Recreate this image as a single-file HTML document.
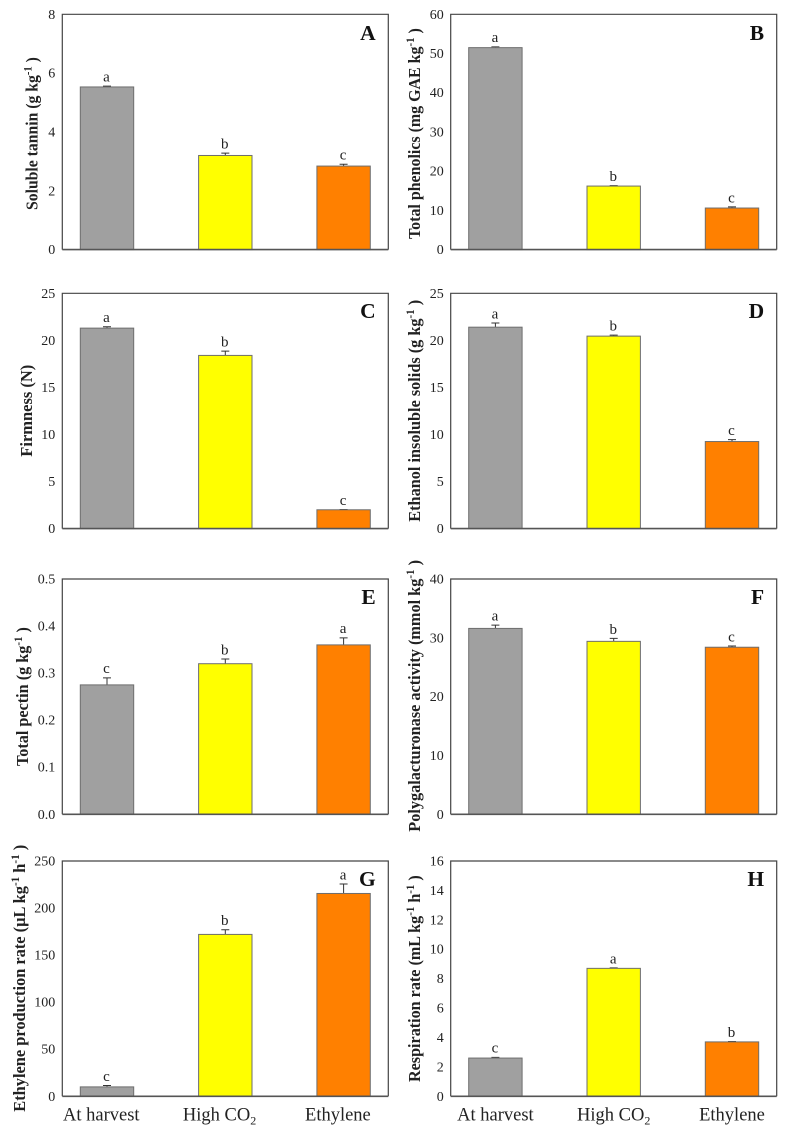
<!DOCTYPE html>
<html lang="en">
<head>
<meta charset="utf-8">
<title>Fruit quality bar charts</title>
<style>
html,body{margin:0;padding:0;background:#fff;width:788px;height:1134px;overflow:hidden}
svg{display:block;font-family:"Liberation Serif","Times New Roman",serif;filter:blur(0.3px)}
</style>
</head>
<body>
<svg id="figure" xmlns="http://www.w3.org/2000/svg" width="788" height="1134" viewBox="0 0 788 1134"></svg>
<script>
const categories = ['At harvest', 'High CO2', 'Ethylene'];
const barColors = ['#a0a0a0', '#ffff00', '#ff8000'];

const panelIds = ['A', 'B', 'C', 'D', 'E', 'F', 'G', 'H'];

const ticksA = [0, 2, 4, 6, 8];
const ticksB = [0, 10, 20, 30, 40, 50, 60];
const ticksC = [0, 5, 10, 15, 20, 25];
const ticksD = [0, 5, 10, 15, 20, 25];
const ticksE = [0, 0.1, 0.2, 0.3, 0.4, 0.5];
const ticksF = [0, 10, 20, 30, 40];
const ticksG = [0, 50, 100, 150, 200, 250];
const ticksH = [0, 2, 4, 6, 8, 10, 12, 14, 16];

const valuesA = [5.53, 3.2, 2.84];
const valuesB = [51.5, 16.2, 10.6];
const valuesC = [21.3, 18.4, 2.0];
const valuesD = [21.4, 20.45, 9.25];
const valuesE = [0.275, 0.32, 0.36];
const valuesF = [31.6, 29.4, 28.4];
const valuesG = [10, 172, 215.5];
const valuesH = [2.6, 8.7, 3.7];

const errorsA = [0.03, 0.08, 0.06];
const errorsB = [0.2, 0.1, 0.3];
const errorsC = [0.15, 0.45, 0.03];
const errorsD = [0.45, 0.1, 0.2];
const errorsE = [0.015, 0.01, 0.015];
const errorsF = [0.55, 0.5, 0.2];
const errorsG = [1.5, 5, 10];
const errorsH = [0.05, 0.03, 0.03];

const lettersA = ['a', 'b', 'c'];
const lettersB = ['a', 'b', 'c'];
const lettersC = ['a', 'b', 'c'];
const lettersD = ['a', 'b', 'c'];
const lettersE = ['c', 'b', 'a'];
const lettersF = ['a', 'b', 'c'];
const lettersG = ['c', 'b', 'a'];
const lettersH = ['c', 'a', 'b'];

const titlesA = ['Soluble tannin (g kg', '-1', ' )'];
const titlesB = ['Total phenolics (mg GAE kg', '-1', ' )'];
const titlesC = ['Firmness (N)'];
const titlesD = ['Ethanol insoluble solids (g kg', '-1', ' )'];
const titlesE = ['Total pectin (g kg', '-1', ' )'];
const titlesF = ['Polygalacturonase activity (mmol kg', '-1', ' )'];
const titlesG = ['Ethylene production rate (µL kg', '-1', ' h', '-1', ' )'];
const titlesH = ['Respiration rate (mL kg', '-1', ' h', '-1', ' )'];

const allTicks = [ticksA, ticksB, ticksC, ticksD, ticksE, ticksF, ticksG, ticksH];
const allValues = [valuesA, valuesB, valuesC, valuesD, valuesE, valuesF, valuesG, valuesH];
const allErrors = [errorsA, errorsB, errorsC, errorsD, errorsE, errorsF, errorsG, errorsH];
const allLetters = [lettersA, lettersB, lettersC, lettersD, lettersE, lettersF, lettersG, lettersH];
const allTitles = [titlesA, titlesB, titlesC, titlesD, titlesE, titlesF, titlesG, titlesH];

/* layout only */
const columnLeft = [62.3, 450.7];
const rowTop = [14.3, 293.3, 579, 861];
const plotWidth = 326;
const plotHeight = 235.3;
const barWidth = 53.4;
const firstBarCenter = 44.7;
const bandStep = 118.3;
const titleBaselineX = [37.5, 420, 32, 420, 28, 420, 25, 420];
const titleStartY = [210, 239, 456.7, 521.7, 766, 831.7, 1111.7, 1082];
const titleSpan = [153, 211, 92, 222, 139, 272, 267, 207];
const letterBaselineOffset = [25.7, 25.7, 24.7, 24.7, 25, 25, 25, 25];
const tickDecimals = [0, 0, 0, 0, 1, 0, 0, 0];
const categoryCenterShift = [-5.7, 0];
const categoryBaselineY = 1120.7;

const NS = 'http://www.w3.org/2000/svg';
const figure = document.getElementById('figure');
const INK = '#222222';

function make(parent, tag, attrs) {
  const el = document.createElementNS(NS, tag);
  for (const key in attrs) el.setAttribute(key, attrs[key]);
  parent.appendChild(el);
  return el;
}

function linearY(value, top, max) {
  return top + plotHeight - (value / max) * plotHeight;
}

function bandX(index, left) {
  return left + firstBarCenter + bandStep * index;
}

panelIds.forEach(function (id, p) {
  const col = p % 2;
  const row = Math.floor(p / 2);
  const left = columnLeft[col];
  const top = rowTop[row];
  const ticks = allTicks[p];
  const maxValue = ticks[ticks.length - 1];
  const key = id.toLowerCase();

  const group = make(figure, 'g', {});
  
  

  allValues[p].forEach(function (value, i) {
    const cx = bandX(i, left);
    const y = linearY(value, top, maxValue);
    const capY = linearY(value + allErrors[p][i], top, maxValue);

    const err = make(group, 'path', {
      d: 'M' + cx + ' ' + y + 'V' + capY + 'M' + (cx - 4) + ' ' + capY + 'H' + (cx + 4),
      fill: 'none', stroke: '#333333', 'stroke-width': 1
    });
    
    

    const bar = make(group, 'rect', {
      x: cx - barWidth / 2, y: y, width: barWidth,
      height: top + plotHeight - y,
      fill: barColors[i], stroke: '#6e6e6e', 'stroke-width': 1
    });
    
    

    const letter = make(group, 'text', {
      x: cx - 0.5, y: capY - 4.6, 'text-anchor': 'middle',
      'font-size': 15, fill: INK
    });
    letter.textContent = allLetters[p][i];
    
    
  });

  const frame = make(group, 'path', {
    d: 'M' + left + ' ' + (top + plotHeight) + 'V' + top + 'H' + (left + plotWidth) + 'V' + (top + plotHeight),
    fill: 'none', stroke: '#444444', 'stroke-width': 1.2
  });
  
  

  const baseline = make(group, 'line', {
    x1: left, x2: left + plotWidth, y1: top + plotHeight, y2: top + plotHeight,
    stroke: '#555555', 'stroke-width': 1.6
  });
  
  

  ticks.forEach(function (tick) {
    const label = make(group, 'text', {
      x: left - 7, y: linearY(tick, top, maxValue) + 4.5,
      'text-anchor': 'end', 'font-size': 14, fill: INK
    });
    label.textContent = tick.toFixed(tickDecimals[p]);
    
    
  });

  const tx = titleBaselineX[p];
  const ty = titleStartY[p];
  const title = make(group, 'text', {
    x: 0, y: 0, 'font-size': 17, 'font-weight': 'bold', fill: INK
  });
  
  
  allTitles[p].forEach(function (part, k) {
    const isSup = k % 2 === 1;
    const span = make(title, 'tspan', {
      dy: isSup ? -6 : (k === 0 ? 0 : 6),
      'font-size': isSup ? 11.5 : 17
    });
    span.textContent = part;
    span.setAttribute('xml:space', 'preserve');
  });
  const natural = title.getComputedTextLength() || titleSpan[p];
  title.setAttribute('transform', 'translate(' + tx + ' ' + ty + ') rotate(-90) scale(' + (titleSpan[p] / natural) + ' 1)');

  const panelLetter = make(group, 'text', {
    x: left + 313.4, y: top + letterBaselineOffset[p],
    'text-anchor': 'end', 'font-size': 21.5, 'font-weight': 'bold', fill: '#111111'
  });
  panelLetter.textContent = id;
  
  

  if (row === 3) {
    categories.forEach(function (cat, i) {
      const m = cat.match(/^(.*?)(\d)$/);
      const label = make(group, 'text', {
        x: bandX(i, left) + categoryCenterShift[col], y: categoryBaselineY,
        'text-anchor': 'middle', 'font-size': 18.5, fill: INK
      });
      
      
      if (m) {
        make(label, 'tspan', {}).textContent = m[1];
        make(label, 'tspan', { dy: 4, 'font-size': 12 }).textContent = m[2];
      } else {
        label.textContent = cat;
      }
    });
  }
});
</script>
</body>
</html>
